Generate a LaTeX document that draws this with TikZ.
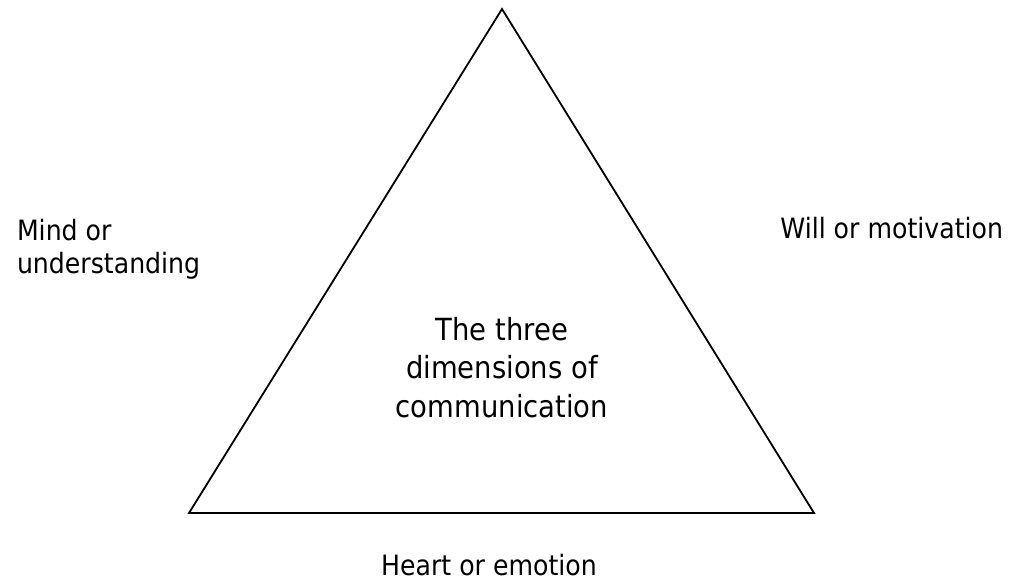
\documentclass[tikz,border=0pt]{standalone}
\usepackage{fontspec}
\setmainfont{DejaVu Sans}[FakeStretch=0.9]
\begin{document}
\begin{tikzpicture}[x=1pt,y=-1pt,
  edge/.style={line width=1.8pt,line join=miter},
  lbl/.style={inner sep=0pt,outer sep=0pt,font=\fontsize{28}{32.5}\selectfont},
  ctr/.style={inner sep=0pt,outer sep=0pt,align=center,font=\fontsize{30.5}{38.5}\selectfont}]
\useasboundingbox (0,0) rectangle (1016,579);
\coordinate (apex) at (502,9);
\coordinate (bl) at (189,513);
\coordinate (br) at (814,513);
\draw[edge] (apex) -- (bl) -- (br) -- cycle;
\node[lbl,align=left,anchor=base west] (mind) at (17,273) {Mind or\\understanding};
\node[lbl,anchor=base east] (will) at (1003,238) {Will or motivation};
\node[lbl,anchor=base] (heart) at (489,575.5) {Heart or emotion};
\node[ctr,anchor=base] (center) at (502,417) {The three\\dimensions of\\communication};
\end{tikzpicture}
\end{document}
